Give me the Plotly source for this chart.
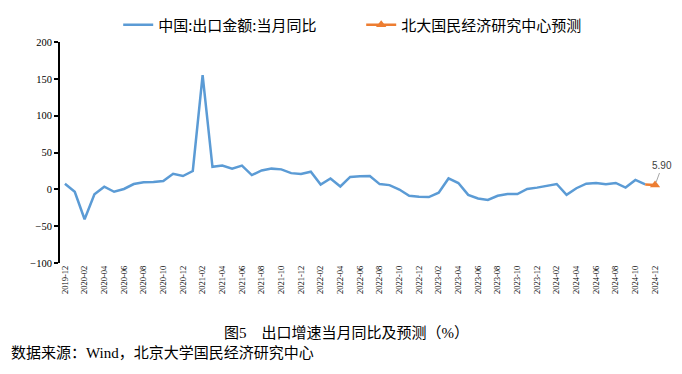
import plotly.graph_objects as go

months = [
    "2019-12",
    "2020-01", "2020-02", "2020-03", "2020-04", "2020-05", "2020-06",
    "2020-07", "2020-08", "2020-09", "2020-10", "2020-11", "2020-12",
    "2021-01", "2021-02", "2021-03", "2021-04", "2021-05", "2021-06",
    "2021-07", "2021-08", "2021-09", "2021-10", "2021-11", "2021-12",
    "2022-01", "2022-02", "2022-03", "2022-04", "2022-05", "2022-06",
    "2022-07", "2022-08", "2022-09", "2022-10", "2022-11", "2022-12",
    "2023-01", "2023-02", "2023-03", "2023-04", "2023-05", "2023-06",
    "2023-07", "2023-08", "2023-09", "2023-10", "2023-11", "2023-12",
    "2024-01", "2024-02", "2024-03", "2024-04", "2024-05", "2024-06",
    "2024-07", "2024-08", "2024-09", "2024-10", "2024-11", "2024-12",
]

export_yoy = [
    7.6,
    -3.3, -40.6, -6.6, 3.5, -3.3, 0.5,
    7.2, 9.5, 9.9, 11.4, 21.1, 18.1,
    24.9, 154.9, 30.6, 32.3, 27.9, 32.2,
    19.3, 25.6, 28.1, 27.1, 22.0, 20.9,
    23.9, 6.5, 14.7, 3.9, 16.9, 17.9,
    18.0, 7.1, 5.7, -0.3, -8.7, -9.9,
    -10.5, -4.5, 14.8, 8.5, -7.5, -12.4,
    -14.5, -8.8, -6.2, -6.4, 0.5, 2.3,
    4.5, 7.2, -7.5, 1.5, 7.6, 8.6,
    7.0, 8.7, 2.4, 12.7, 6.7,
]

forecast_months = ["2024-11", "2024-12"]
forecast_values = [6.7, 5.90]

tick_labels = months[::2]
y_ticks = [-100, -50, 0, 50, 100, 150, 200]

BLUE = "#5B9BD5"
ORANGE = "#ED7D31"
SERIF = "Liberation Serif, Times New Roman, Noto Sans CJK SC"
CJK = "Noto Sans CJK SC, sans-serif"

n = len(months)
boundary_ticks = [i - 0.5 for i in range(0, n, 2)]

fig = go.Figure()

fig.add_trace(go.Scatter(
    x=months[:len(export_yoy)], y=export_yoy, mode="lines",
    name="中国:出口金额:当月同比",
    line=dict(color=BLUE, width=2.5),
))
fig.add_trace(go.Scatter(
    x=forecast_months, y=forecast_values, mode="lines",
    line=dict(color=ORANGE, width=2.5),
    showlegend=False, legendgroup="f",
))
fig.add_trace(go.Scatter(
    x=forecast_months[-1:], y=forecast_values[-1:], mode="lines+markers",
    name="北大国民经济研究中心预测", legendgroup="f",
    line=dict(color=ORANGE, width=2.5),
    marker=dict(symbol="triangle-up", size=9, color=ORANGE),
))

fig.add_annotation(
    x=forecast_months[-1], y=forecast_values[-1],
    text=f"{forecast_values[-1]:.2f}",
    showarrow=True, arrowhead=0, arrowwidth=1, arrowcolor="#A6A6A6",
    ax=7, ay=-19, standoff=3,
    font=dict(family="Liberation Sans, Arial", size=10, color="#404040"),
)

fig.add_annotation(
    xref="paper", yref="paper", x=0.478, y=-0.317,
    text="图5　出口增速当月同比及预测（%）", showarrow=False,
    font=dict(family=SERIF, size=15, color="black"),
    xanchor="center", yanchor="middle",
)
fig.add_annotation(
    xref="paper", yref="paper", x=-0.085, y=-0.407,
    text="数据来源：Wind，北京大学国民经济研究中心", showarrow=False,
    font=dict(family=SERIF, size=15, color="black"),
    xanchor="left", yanchor="middle",
)

fig.update_layout(
    width=682, height=374,
    margin=dict(l=52, r=30, t=34, b=119, autoexpand=False),
    paper_bgcolor="white", plot_bgcolor="white",
    showlegend=True,
    legend=dict(
        orientation="h", x=0.097, xanchor="left", y=1.152, yanchor="top",
        font=dict(family=CJK, size=15, color="black"),
        itemwidth=30, tracegroupgap=0, entrywidth=198,
        bgcolor="rgba(0,0,0,0)",
    ),
    xaxis=dict(
        type="category", categoryorder="array", categoryarray=months,
        range=[-0.5, n - 0.5],
        tickmode="array", tickvals=tick_labels, ticktext=tick_labels,
        tickangle=-90, ticks="", showline=False, showgrid=False, zeroline=False,
        tickfont=dict(family=SERIF, size=8.5, color="black"),
    ),
    xaxis2=dict(
        overlaying="x", anchor="free", position=1/3,
        range=[-0.5, n - 0.5], tickmode="array", tickvals=boundary_ticks,
        ticks="outside", ticklen=3, tickwidth=2, tickcolor="black",
        showline=True, linecolor="black", linewidth=2,
        showticklabels=False, showgrid=False, zeroline=False,
    ),
    xaxis3=dict(
        overlaying="x", anchor="free", position=1/3,
        range=[-0.5, n - 0.5], tickmode="array", tickvals=boundary_ticks,
        ticks="inside", ticklen=3, tickwidth=2, tickcolor="black",
        showline=False, showticklabels=False, showgrid=False, zeroline=False,
    ),
    yaxis=dict(
        range=[-100, 200], tickmode="array", tickvals=y_ticks,
        ticks="outside", ticklen=4, tickwidth=2, tickcolor="black",
        showline=True, linecolor="black", linewidth=2,
        showgrid=False, zeroline=False,
        tickfont=dict(family=SERIF, size=10.5, color="black"),
    ),
)

fig.write_html("out.html")
